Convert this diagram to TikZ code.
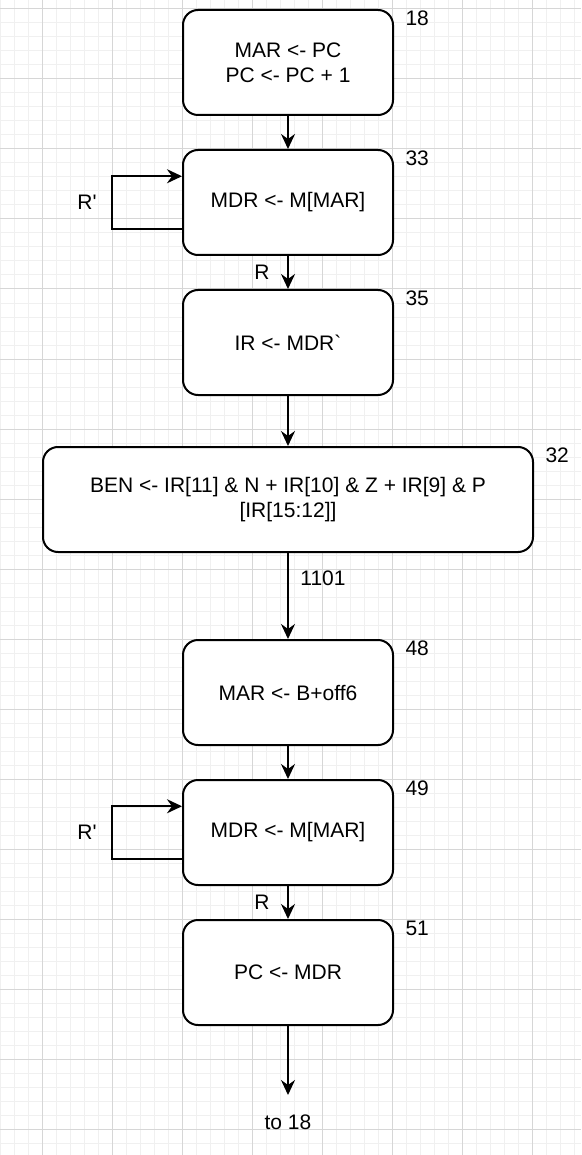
\documentclass[tikz,border=0pt]{standalone}
\usepackage{fontspec}
\setmainfont{Liberation Sans}
\usepackage{xcolor}
\usetikzlibrary{positioning}
\usetikzlibrary{arrows.meta}

\definecolor{gridminor}{RGB}{240,240,240}
\definecolor{gridmajor}{RGB}{214,214,214}

\tikzset{
  state/.style={draw, fill=white, rounded corners=15pt, line width=2pt,
    minimum width=210pt, minimum height=105pt, align=center, inner sep=0pt},
  conn/.style={line width=2pt},
  every node/.style={font=\fontsize{21}{25.2}\selectfont}
}

\begin{document}
\begin{tikzpicture}[x=1pt,y=-1pt,>={Stealth[length=15pt,width=14pt,inset=5pt]}]

\useasboundingbox (0,0) rectangle (581,1155);

% grid
\begin{scope}
\clip (0,0) rectangle (581,1155);
\foreach \x in {0,14,...,574} \draw[gridminor, line width=1pt] (\x,0) -- (\x,1155);
\foreach \y in {9,23,...,1153} \draw[gridminor, line width=1pt] (0,\y) -- (581,\y);
\foreach \x in {42,112,...,532} \draw[gridmajor, line width=1pt] (\x,0) -- (\x,1155);
\foreach \y in {9,79,...,1129} \draw[gridmajor, line width=1pt] (0,\y) -- (581,\y);
\end{scope}



\node[state] (b18) at (288,62.5) {MAR <- PC\\PC <- PC + 1};
\node[state] (b33) at (288,202.5) {MDR <- M[MAR]};
\node[state] (b35) at (288,342.5) {IR <- MDR\textasciigrave};
\node[state, minimum width=490pt] (b32) at (288,499.5) {BEN <- IR[11] \& N + IR[10] \& Z + IR[9] \& P\\{}[IR[15:12]]};
\node[state] (b48) at (288,692.5) {MAR <- B+off6};
\node[state] (b49) at (288,832.5) {MDR <- M[MAR]};
\node[state] (b51) at (288,972.5) {PC <- MDR};

\node[anchor=west] (n18) at ([shift={(8,9)}]b18.north east) {18};
\node[anchor=west] (n33) at ([shift={(8,9)}]b33.north east) {33};
\node[anchor=west] (n35) at ([shift={(8,9)}]b35.north east) {35};
\node[anchor=west] (n32) at ([shift={(8,9)}]b32.north east) {32};
\node[anchor=west] (n48) at ([shift={(8,9)}]b48.north east) {48};
\node[anchor=west] (n49) at ([shift={(8,9)}]b49.north east) {49};
\node[anchor=west] (n51) at ([shift={(8,9)}]b51.north east) {51};

\node (rp33) at (87,202.5) {R\textquotesingle};
\node (rp49) at (87,832.5) {R\textquotesingle};
\node (r33) at (262,272.5) {R};
\node (r49) at (262,902.5) {R};
\node (l1101) at (323,578) {1101};
\node (to18) at (288,1122) {to 18};
\coordinate (b51end) at (288,1095);

\draw[conn,->] (b18) -- (b33);
\draw[conn,->] (b33) -- (b35);
\draw[conn,->] (b35) -- (b32);
\draw[conn,->] (b32) -- (b48);
\draw[conn,->] (b48) -- (b49);
\draw[conn,->] (b49) -- (b51);
\draw[conn,->] (b51) -- (b51end);

%\draw loops
\draw[conn,->] ([yshift=-26.25pt]b33.west) -- ++(-70,0) |- ([yshift=26.25pt]b33.west);
\draw[conn,->] ([yshift=-26.25pt]b49.west) -- ++(-70,0) |- ([yshift=26.25pt]b49.west);

\end{tikzpicture}
\end{document}
